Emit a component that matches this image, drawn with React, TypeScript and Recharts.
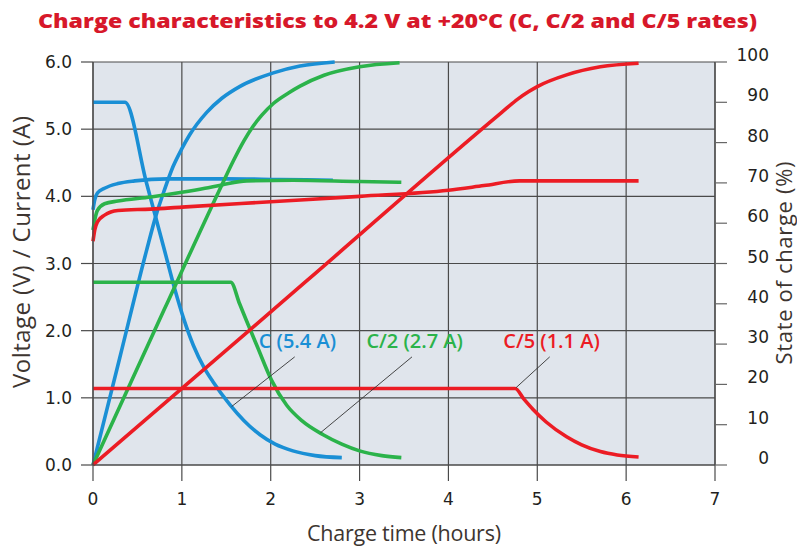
import { CartesianGrid, Line, LineChart, ReferenceDot, ReferenceLine, XAxis, YAxis } from 'recharts'

type Pt = [number, number]

const HOURS = [0, 1, 2, 3, 4, 5, 6, 7]
const VOLTS = [0, 1, 2, 3, 4, 5, 6]
const SOC_TICKS = [0, 10, 20, 30, 40, 50, 60, 70, 80, 90, 100]

// C rate (5.4 A): [hours, value]
const C_VOLTAGE: Pt[] = [[0, 3.8], [0.02, 3.95], [0.05, 4.05], [0.13, 4.12], [0.28, 4.19], [0.47, 4.23], [0.84, 4.26], [1.5, 4.26], [2.1, 4.25], [2.7, 4.24]]
const C_CURRENT: Pt[] = [[0, 5.4], [0.36, 5.4], [0.6, 4.21], [0.8, 3.22], [0.92, 2.62], [1.02, 2.18], [1.13, 1.78], [1.25, 1.45], [1.35, 1.24], [1.54, 0.9], [1.7, 0.66], [1.88, 0.45], [2.05, 0.31], [2.25, 0.21], [2.5, 0.14], [2.8, 0.11]]
const C_SOC: Pt[] = [[0, 0], [0.3, 26.5], [0.6, 53], [0.71, 62], [0.8, 68], [0.9, 74], [1.0, 78.5], [1.09, 82], [1.28, 87.5], [1.45, 91], [1.65, 93.9], [2.03, 97.3], [2.33, 99], [2.72, 100]]

// C/2 rate (2.7 A)
const C2_VOLTAGE: Pt[] = [[0, 3.5], [0.02, 3.65], [0.05, 3.79], [0.13, 3.89], [0.28, 3.93], [0.65, 3.99], [1.0, 4.06], [1.26, 4.12], [1.45, 4.17], [1.73, 4.23], [2.25, 4.24], [3.0, 4.22], [3.47, 4.21]]
const C2_CURRENT: Pt[] = [[0, 2.72], [1.55, 2.72], [1.65, 2.4], [1.73, 2.14], [1.85, 1.76], [2.01, 1.26], [2.18, 0.89], [2.35, 0.66], [2.59, 0.45], [2.8, 0.31], [3.0, 0.21], [3.25, 0.14], [3.47, 0.11]]
const C2_SOC: Pt[] = [[0, 0], [0.8, 38.5], [1.45, 69.5], [1.58, 75.5], [1.7, 80.5], [1.8, 84], [1.9, 86.8], [2.03, 89.7], [2.2, 92.3], [2.33, 94], [2.6, 96.7], [3.0, 98.8], [3.45, 99.8]]

// C/5 rate (1.1 A)
const C5_VOLTAGE: Pt[] = [[0, 3.33], [0.02, 3.5], [0.05, 3.62], [0.13, 3.72], [0.28, 3.79], [0.65, 3.81], [1.0, 3.84], [2.0, 3.92], [3.0, 4.0], [4.0, 4.09], [4.4, 4.16], [4.8, 4.23], [5.5, 4.23], [6.14, 4.23]]
const C5_CURRENT: Pt[] = [[0, 1.14], [4.75, 1.14], [4.85, 0.98], [4.95, 0.83], [5.1, 0.64], [5.33, 0.42], [5.5, 0.3], [5.71, 0.2], [5.9, 0.15], [6.14, 0.12]]
const C5_SOC: Pt[] = [[0, 0], [2.4, 45.6], [4.6, 87.5], [4.78, 90.8], [4.9, 92.6], [5.0, 93.9], [5.33, 96.8], [5.71, 98.8], [6.14, 99.7]]

const RATE_NAMES = ['C (5.4 A)', 'C/2 (2.7 A)', 'C/5 (1.1 A)']
const RATE_COLORS = ['#1a8fd5', '#2bb34a', '#ec1c24']
const NAME_AT: Pt[] = [[2.3, 1.85], [3.62, 1.85], [5.16, 1.85]]
const LEADERS: [Pt, Pt][] = [
  [[2.27, 1.61], [1.56, 0.87]],
  [[3.59, 1.61], [2.56, 0.48]],
  [[5.14, 1.61], [4.76, 1.15]],
]

const RATES = [
  { volt: C_VOLTAGE, amp: C_CURRENT, soc: C_SOC },
  { volt: C2_VOLTAGE, amp: C2_CURRENT, soc: C2_SOC },
  { volt: C5_VOLTAGE, amp: C5_CURRENT, soc: C5_SOC },
]

const rows = (pts: Pt[]) => pts.map(([x, y]) => ({ x, y }))

const TICK_FONT = { fill: '#231f20', fontSize: 17, fontFamily: 'DejaVu Sans' }
const TITLE_FONT = "'Open Sans', sans-serif"
const GRID = '#4a4a4a'

const SocTick = (p: any) => (
  <text x={p.x + 42} y={p.y - 7} dy="0.355em" textAnchor="end" {...TICK_FONT}>
    {p.payload.value}
  </text>
)

export default function App() {
  return (
    <div style={{ position: 'absolute', left: 0, top: 0, width: 797, height: 549, background: '#fff' }}>
      <LineChart width={797} height={549} margin={{ top: 62, right: 22, bottom: 54, left: 33 }}>
        <CartesianGrid yAxisId="v" stroke={GRID} strokeWidth={1.2} fill="#e0e5ec" fillOpacity={1} />
        <XAxis
          dataKey="x"
          type="number"
          domain={[0, 7]}
          ticks={HOURS}
          height={30}
          tickSize={16}
          tickMargin={12}
          axisLine={{ stroke: GRID, strokeWidth: 1.2 }}
          tickLine={{ stroke: GRID, strokeWidth: 1.2 }}
          tick={TICK_FONT}
        />
        <YAxis
          yAxisId="v"
          type="number"
          domain={[0, 6]}
          ticks={VOLTS}
          width={60}
          tickSize={12}
          tickMargin={9}
          tickFormatter={(v: number) => v.toFixed(1)}
          axisLine={{ stroke: GRID, strokeWidth: 1.2 }}
          tickLine={{ stroke: GRID, strokeWidth: 1.2 }}
          tick={TICK_FONT}
        />
        <YAxis
          yAxisId="soc"
          orientation="right"
          type="number"
          domain={[0, 100]}
          ticks={SOC_TICKS}
          width={60}
          tickSize={12}
          tickMargin={0}
          axisLine={{ stroke: GRID, strokeWidth: 1.2 }}
          tickLine={{ stroke: '#666', strokeWidth: 1.2 }}
          tick={SocTick}
        />
        {RATES.map((r, k) => [
          <Line key={`v${k}`} data={rows(r.volt)} dataKey="y" yAxisId="v" type="monotone" stroke={RATE_COLORS[k]} strokeWidth={3.6} dot={false} activeDot={false} isAnimationActive={false} />,
          <Line key={`a${k}`} data={rows(r.amp)} dataKey="y" yAxisId="v" type="monotone" stroke={RATE_COLORS[k]} strokeWidth={3.6} dot={false} activeDot={false} isAnimationActive={false} />,
          <Line key={`s${k}`} data={rows(r.soc)} dataKey="y" yAxisId="soc" type="monotone" stroke={RATE_COLORS[k]} strokeWidth={3.6} dot={false} activeDot={false} isAnimationActive={false} />,
        ])}
        {LEADERS.map(([a, b], k) => (
          <ReferenceLine
            key={`l${k}`}
            yAxisId="v"
            segment={[{ x: a[0], y: a[1] }, { x: b[0], y: b[1] }]}
            stroke="#333"
            strokeWidth={0.9}
          />
        ))}
        {NAME_AT.map(([x, y], k) => (
          <ReferenceDot
            key={`n${k}`}
            yAxisId="v"
            x={x}
            y={y}
            r={0}
            fill="none"
            stroke="none"
            label={{
              value: RATE_NAMES[k],
              position: 'center',
              fill: RATE_COLORS[k],
              fontSize: 20,
              fontWeight: 600,
              fontFamily: TITLE_FONT,
            }}
          />
        ))}
      </LineChart>
      <svg width={797} height={549} style={{ position: 'absolute', left: 0, top: 0, pointerEvents: 'none' }}>
        <text x={397.5} y={28} textAnchor="middle" fill="#d7182a" fontSize={20} fontWeight={800} fontFamily={TITLE_FONT} textLength={719} lengthAdjust="spacingAndGlyphs">
          Charge characteristics to 4.2 V at +20°C (C, C/2 and C/5 rates)
        </text>
        <text x={404} y={541} textAnchor="middle" fill="#3d3530" fontSize={21.5} fontFamily={TITLE_FONT} textLength={194} lengthAdjust="spacing">
          Charge time (hours)
        </text>
        <text x={30} y={252} transform="rotate(-90 30 252)" textAnchor="middle" fill="#3d3530" fontSize={24} fontFamily={TITLE_FONT} textLength={272} lengthAdjust="spacing">
          Voltage (V) / Current (A)
        </text>
        <text x={792} y={263} transform="rotate(-90 792 263)" textAnchor="middle" fill="#3d3530" fontSize={22} fontFamily={TITLE_FONT} textLength={203} lengthAdjust="spacing">
          State of charge (%)
        </text>
      </svg>
    </div>
  )
}
